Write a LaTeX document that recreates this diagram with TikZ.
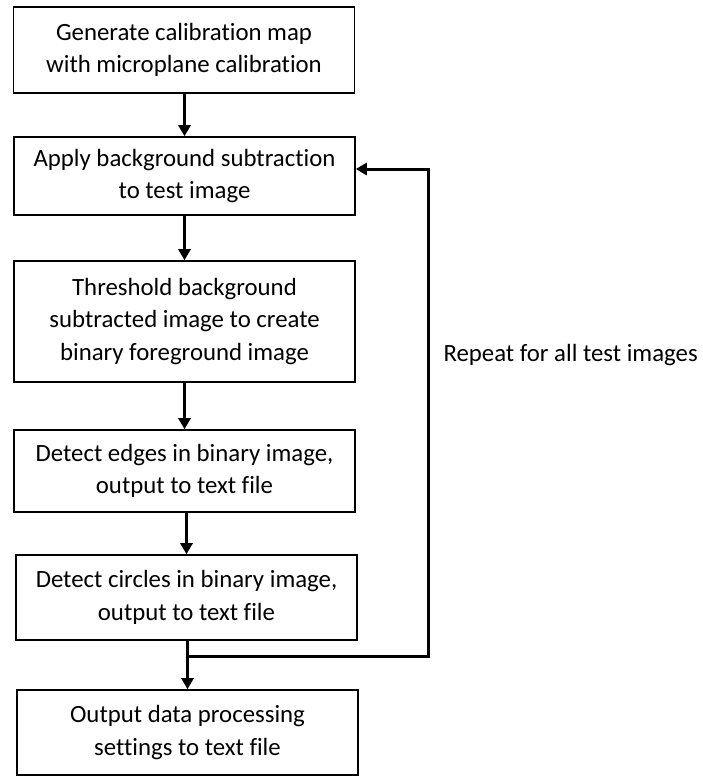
\documentclass[tikz,border=0pt]{standalone}
\usepackage{fontspec}
\setmainfont{Carlito}[Ligatures=NoCommon]
\usetikzlibrary{arrows.meta}
\begin{document}
\begin{tikzpicture}[x=1pt,y=-1pt,
  txt/.style={font=\fontsize{24.8}{32.5}\selectfont},
  box/.style={txt,draw,line width=1.6pt,rectangle,minimum width=341pt,inner sep=0pt,
    align=center},
  conn/.style={line width=3pt,-{Triangle[length=11pt,width=12pt]}}]
\useasboundingbox (0,0) rectangle (703,776);
\node[box,minimum height=86pt] (b1) at (184,50) {Generate calibration map\\with microplane calibration};
\node[box,minimum height=78pt] (b2) at (184.5,176) {Apply background subtraction\\to test image};
\node[box,minimum height=121pt] (b3) at (184.5,321.5) {Threshold background\\subtracted image to create\\binary foreground image};
\node[box,minimum height=82pt] (b4) at (184.5,471) {Detect edges in binary image,\\output to text file};
\node[box,minimum height=85pt] (b5) at (186.5,597.5) {Detect circles in binary image,\\output to text file};
\node[box,minimum height=85pt] (b6) at (187.5,732.5) {Output data processing\\settings to text file};
\draw[conn] (b1.south -| b2) -- (b2.north);
\draw[conn] (b2.south) -- (b3.north);
\draw[conn] (b3.south) -- (b4.north);
\draw[conn] (b4.south -| b5) -- (b5.north);
\draw[conn] (b5.south -| b6) -- (b6.north);
\coordinate (j) at (187.5,656);
\draw[conn] (j) -- (428,656) -- (428,169) -- (b2.east |- 0,169);
\node[txt,anchor=west] (lab) at (440,355) {Repeat for all test images};
\end{tikzpicture}
\end{document}
